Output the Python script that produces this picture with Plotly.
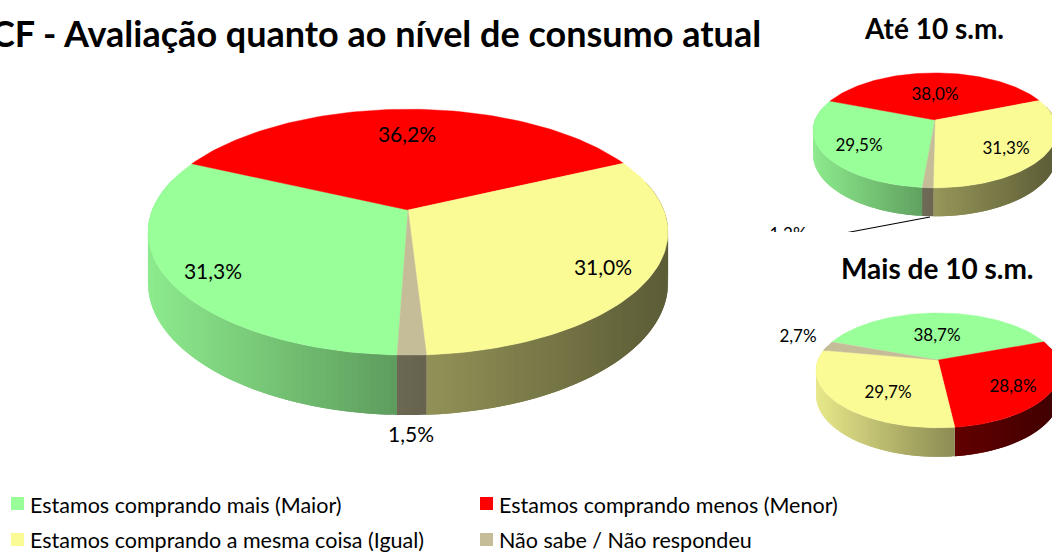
import math
import plotly.graph_objects as go

W, H = 1052, 552
FONT = "Lato"

CATEGORIES = ["Estamos comprando mais (Maior)", "Estamos comprando menos (Menor)",
              "Estamos comprando a mesma coisa (Igual)", "Não sabe / Não respondeu"]
COLORS = ["#99FF99", "#FF0000", "#FBFB96", "#C4BD97"]
WALL_FACTOR = [1.0, 0.68, 1.0, 0.9]

VALUES_TOTAL = [31.3, 36.2, 31.0, 1.5]
VALUES_ATE_10 = [29.5, 38.0, 31.3, 1.2]
VALUES_MAIS_10 = [38.7, 28.8, 29.7, 2.7]

TITLE = "CF - Avaliação quanto ao nível de consumo atual"
SUBTITLE_1 = "Até 10 s.m."
SUBTITLE_2 = "Mais de 10 s.m."

# pie geometry, in pixels: apex x/y, half width, height scale, depth, first-slice angle
PIES = [
    dict(values=VALUES_TOTAL, cx=408, cy=210, rx=255.8, h=119, depth=60, start=182.0,
         labels=[(213, 274), (407, 137), (603, 270), (411, 437)], size=21),
    dict(values=VALUES_ATE_10, cx=935, cy=120, rx=120, h=55.6, depth=28.5, start=185.0,
         labels=[(859, 147), (935, 96), (1006, 150), (788, 236)], size=17),
    dict(values=VALUES_MAIS_10, cx=938, cy=360, rx=120, h=55.6, depth=29, start=290.4,
         labels=[(937, 337), (1013, 388), (888, 394), (798, 338)], size=17),
]
P = 0.18

# legend placement in pixels: swatch centre x/y, text left x/centre y
LEGEND_POS = [(17.5, 503.5, 28, 505), (486.5, 503.5, 497, 505),
              (17.5, 539.5, 28, 539.5), (486.5, 539.5, 497, 539.5)]


def project(pie, deg, drop=0.0):
    t = math.radians(deg)
    u, v = math.sin(t), -math.cos(t)
    s = 1 / (1 - P * v)
    return pie["cx"] + pie["rx"] * u * s, pie["cy"] + pie["h"] * v * s + drop * s / 1.22


def shade(color, pie_x, factor):
    # side-wall brightness falls from left to right
    if pie_x < 0:
        b = 0.60 + (-pie_x) * 0.32
    else:
        b = 0.60 - pie_x * 0.23
    b *= factor
    r, g, bl = (int(color[i:i + 2], 16) for i in (1, 3, 5))
    return f"rgb({int(r * b)},{int(g * b)},{int(bl * b)})"


fig = go.Figure()

for pie in PIES:
    angles = [pie["start"]]
    for val in pie["values"]:
        angles.append(angles[-1] + val * 3.6)
    # side wall: strips overlap the following one, so no seams show
    for i, color in enumerate(COLORS):
        a0, a1 = angles[i], angles[i + 1]
        n = max(1, int((a1 - a0) / 1.2))
        for k in range(n):
            b0 = a0 + (a1 - a0) * k / n
            b1 = a0 + (a1 - a0) * (k + 1) / n
            b2 = min(a1, b1 + (a1 - a0) / n)
            if -math.cos(math.radians((b0 + b1) / 2)) < -0.25:
                continue
            x0, y0 = project(pie, b0)
            x1, y1 = project(pie, b2)
            x2, y2 = project(pie, b2, pie["depth"])
            x3, y3 = project(pie, b0, pie["depth"])
            xm = project(pie, (b0 + b1) / 2)[0]
            c = shade(color, (xm - pie["cx"]) / pie["rx"], WALL_FACTOR[i])
            fig.add_trace(go.Scatter(x=[x0, x1, x2, x3, x0], y=[y0, y1, y2, y3, y0], mode="none",
                                     fill="toself", fillcolor=c, showlegend=False, hoverinfo="skip"))
    # top face
    for i, color in enumerate(COLORS):
        a0, a1 = angles[i], angles[i + 1]
        n = max(2, int((a1 - a0) / 1.5))
        pts = [project(pie, a0 + (a1 - a0) * k / n) for k in range(n + 1)]
        xs = [pie["cx"]] + [p[0] for p in pts] + [pie["cx"]]
        ys = [pie["cy"]] + [p[1] for p in pts] + [pie["cy"]]
        fig.add_trace(go.Scatter(x=xs, y=ys, mode="lines", fill="toself", fillcolor=color,
                                 line=dict(color=color, width=0.4), showlegend=False,
                                 name=CATEGORIES[i], hoverinfo="skip"))
    # value labels
    fig.add_trace(go.Scatter(
        x=[p[0] for p in pie["labels"]], y=[p[1] for p in pie["labels"]], mode="text",
        text=[f"{v:.1f}%".replace(".", ",") for v in pie["values"]], textposition="middle center",
        textfont=dict(family=FONT, size=pie["size"], color="#000000"), showlegend=False, hoverinfo="skip"))

# leader line of the 1,2% label
fig.add_trace(go.Scatter(x=[930, 845], y=[217, 233], mode="lines", line=dict(color="#000000", width=1.2),
                         showlegend=False, hoverinfo="skip"))

# legend grid: swatch markers and text, two by two
legend_notes = []
for i, name in enumerate(CATEGORIES):
    mx, my, tx, ty = LEGEND_POS[i]
    fig.add_trace(go.Scatter(x=[mx], y=[my], mode="markers", name=name, showlegend=False, hoverinfo="name",
                             marker=dict(symbol="square", size=13, color=COLORS[i], line=dict(width=0))))
    legend_notes.append(dict(text=name, xref="x", yref="y", x=tx, y=ty, xanchor="left", yanchor="middle",
                             showarrow=False, font=dict(family=FONT, size=21.5, color="#000000")))

fig.update_layout(
    width=W, height=H, margin=dict(l=0, r=0, t=0, b=0, autoexpand=False),
    paper_bgcolor="#FFFFFF", plot_bgcolor="#FFFFFF", showlegend=False,
    xaxis=dict(range=[0, W], visible=False, fixedrange=True),
    yaxis=dict(range=[H, 0], visible=False, fixedrange=True),
    shapes=[dict(type="rect", xref="x", yref="y", x0=760, x1=W, y0=232, y1=252, layer="above",
                 fillcolor="#FFFFFF", line=dict(width=0))],
    annotations=[
        dict(text=f"<b>{TITLE}</b>", xref="x", yref="y", x=763, y=33, xanchor="right", yanchor="middle",
             showarrow=False, font=dict(family=FONT, size=36, color="#000000")),
        dict(text=f"<b>{SUBTITLE_1}</b>", xref="x", yref="y", x=934, y=28, showarrow=False,
             font=dict(family=FONT, size=28, color="#000000")),
        dict(text=f"<b>{SUBTITLE_2}</b>", xref="x", yref="y", x=937, y=268, showarrow=False,
             font=dict(family=FONT, size=28, color="#000000")),
    ] + legend_notes,
)

fig.write_html("out.html", config=dict(displayModeBar=False),
               post_script="document.body.style.margin='0';document.body.style.overflow='hidden';")
